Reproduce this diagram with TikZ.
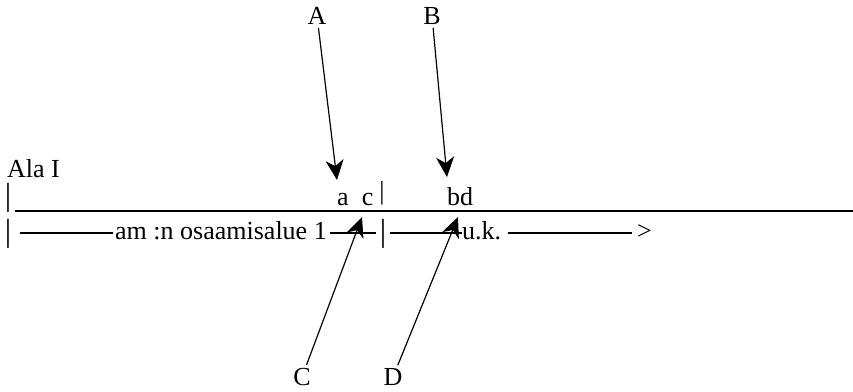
\documentclass[tikz,border=0pt]{standalone}
\usepackage{fontspec}
\setmainfont{Liberation Serif}
\usetikzlibrary{arrows.meta,positioning,calc}

\tikzset{
  txt/.style={inner sep=0pt,anchor=base west},
  bar/.style={inner xsep=4pt,inner ysep=0pt,anchor=base,font=\fontsize{32}{36}\selectfont},
  lab/.style={inner sep=3pt},
  rowline/.style={line width=1.4pt},
  mainline/.style={line width=2.6pt},
  pointer/.style={line width=1.2pt,-{Stealth[length=20pt,width=18pt,inset=6pt]}}
}

\begin{document}
\begin{tikzpicture}[x=1pt,y=-1pt,font=\fontsize{26}{31}\selectfont]
  \useasboundingbox (0,0) rectangle (853,391);

  % top row: headline and the marks above the main line
  \node[txt] (ala) at (7,177) {Ala I};
  \node[bar] (barTL) at (8,205) {|};
  \node[txt] (ac) at (337,205) {a\enspace c};
  \node[bar,font=\fontsize{26}{31}\selectfont] (barTM) at (382,199) {|};
  \node[txt] (bd) at (447,205) {bd};
  \draw[mainline] (15,211) -- (853,211);

  % bottom row: the span below the main line
  \node[bar] (barBL) at (8,241) {|};
  \node[txt] (osa) at (115,239) {am :n osaamisalue 1};
  \node[bar] (barBM) at (383,241) {|};
  \node[txt] (uk) at (462,239) {u.k.};
  \node[txt] (gt) at (637,239) {>};
  \coordinate (row) at (0,233);
  \draw[rowline] ($(row -| barBL.east)+(5,0)$) -- ($(row -| osa.west)+(-2,0)$);
  \draw[rowline] ($(row -| osa.east)+(3,0)$) -- (row -| barBM.west);
  \draw[rowline] (row -| barBM.east) -- (row -| uk.west);
  \draw[rowline] ($(row -| uk.east)+(7,0)$) -- ($(row -| gt.west)+(-5,0)$);

  % pointer labels
  \node[lab] (A) at (317,16) {A};
  \node[lab] (B) at (432,16) {B};
  \node[lab] (C) at (302,377) {C};
  \node[lab] (D) at (393,377) {D};
  \coordinate (tipA) at (337,180);
  \coordinate (tipB) at (447,177);
  \coordinate (tipC) at (362,217);
  \coordinate (tipD) at (458,217);
  \draw[pointer] (A) -- (tipA);
  \draw[pointer] (B) -- (tipB);
  \draw[pointer] (C) -- (tipC);
  \draw[pointer] (D) -- (tipD);
\end{tikzpicture}
\end{document}
